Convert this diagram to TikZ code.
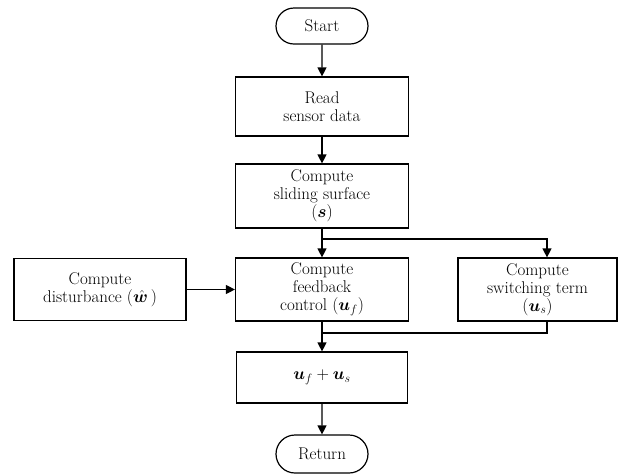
\documentclass[tikz,border=0pt]{standalone}
\usepackage{amsmath}
\usepackage{bm}
\usepackage{fontspec}
\usetikzlibrary{arrows.meta,shapes.misc}

\tikzset{
    block/.style={draw, line width=1.2pt, rectangle, inner sep=0pt, align=center,
        font=\fontsize{17}{18}\selectfont},
    term/.style={draw, line width=1.2pt, rounded rectangle, inner sep=0pt,
        font=\fontsize{17}{18}\selectfont},
    link/.style={line width=1.2pt},
    flow/.style={link, -{Triangle[length=9pt,width=9pt]}},
}

\begin{document}
\begin{tikzpicture}[x=1pt, y=-1pt]
    \useasboundingbox (0,0) rectangle (619,475);

    \node[term, minimum width=92pt, minimum height=36pt] (start) at (322,26) {Start};
    \node[block, minimum width=173pt, minimum height=59pt] (read) at (322,106.5) {Read\\sensor data};
    \node[block, minimum width=173pt, minimum height=64pt] (slide) at (322,196) {Compute\\sliding surface\\$(\bm{s})$};
    \node[block, minimum width=173pt, minimum height=63pt] (fb) at (322,289.5) {Compute\\feedback\\control $(\bm{u}_f)$};
    \node[block, minimum width=172pt, minimum height=62pt] (dist) at (100,289.5) {Compute\\disturbance $(\hat{\bm{w}}\,)$};
    \node[block, minimum width=159pt, minimum height=63pt] (sw) at (537.5,289.5) {Compute\\switching term\\$(\bm{u}_s)$};
    \node[block, minimum width=171pt, minimum height=51pt] (sum) at (322,377.5) {$\bm{u}_f+\bm{u}_s$};
    \node[term, minimum width=92pt, minimum height=38pt] (ret) at (322,454) {Return};

    \coordinate (split) at (322,239);
    \coordinate (merge) at (322,333);

    \draw[flow] (start) -- (read);
    \draw[flow] (read) -- (slide);
    \draw[flow] (slide) -- (fb);
    \draw[flow] (split) -| ([xshift=9.5pt]sw.north);
    \draw[flow] (dist) -- (fb);
    \draw[link] ([xshift=9.5pt]sw.south) |- (merge);
    \draw[flow] (fb) -- (sum);
    \draw[flow] (sum) -- (ret);
\end{tikzpicture}
\end{document}
